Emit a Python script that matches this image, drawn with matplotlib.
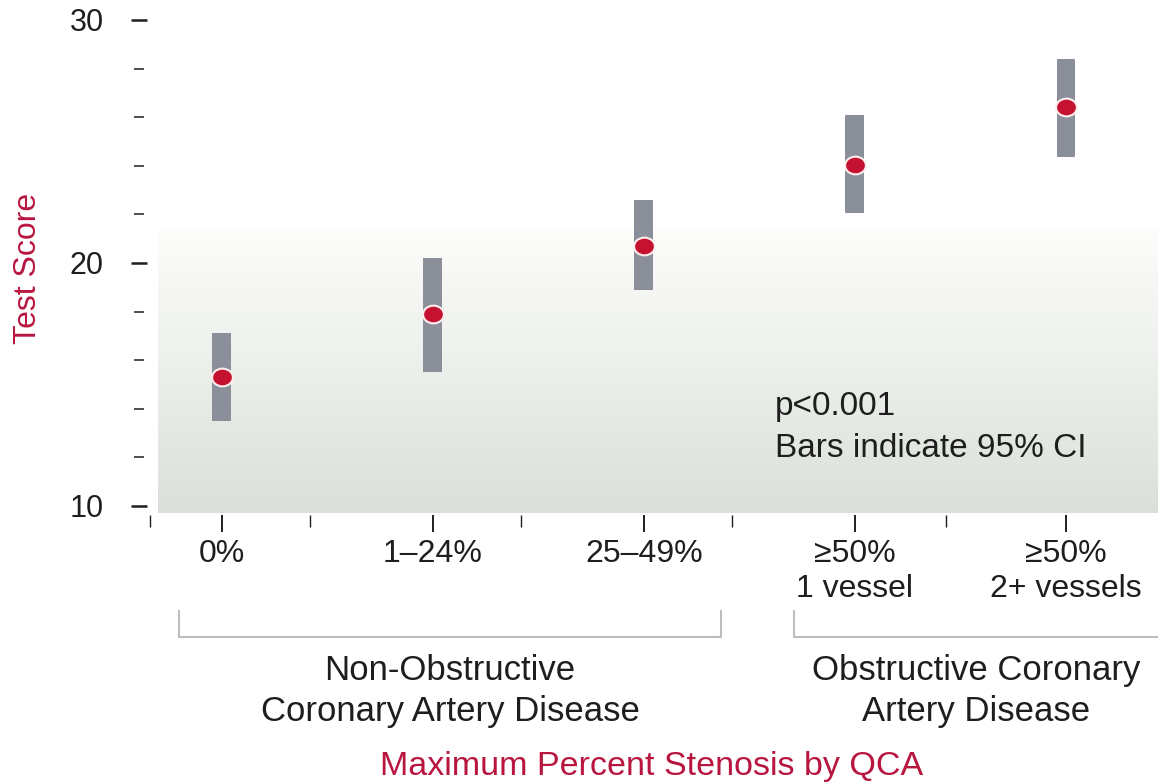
import numpy as np
import matplotlib
matplotlib.use('Agg')
import matplotlib.pyplot as plt
from matplotlib.path import Path
from matplotlib.transforms import Affine2D, blended_transform_factory
from matplotlib.colors import LinearSegmentedColormap

categorias = ['0%', '1–24%', '25–49%', '≥50%\n1 vessel', '≥50%\n2+ vessels']
media = [15.3, 17.9, 20.7, 24.05, 26.4]
ic_inferior = [13.5, 15.5, 18.9, 22.05, 24.35]
ic_superior = [17.1, 20.2, 22.6, 26.1, 28.4]
grupos = [('Non-Obstructive', 'Coronary Artery Disease'), ('Obstructive Coronary', 'Artery Disease')]
grupos_inicio = [-0.204, 2.711]
grupos_fim = [2.365, 4.6]

vermelho = '#b8163f'
texto = '#1e1e1e'

plt.rcParams['font.family'] = ['Liberation Sans', 'DejaVu Sans']

fig = plt.figure(figsize=(11.58, 7.84), dpi=100)
ax = fig.add_axes([146 / 1158, 271 / 784, 1012 / 1158, 513 / 784])
ax.patch.set_alpha(0)

x = np.arange(len(categorias))

# fundo em degradê (parte de baixo do gráfico)
fundo = LinearSegmentedColormap.from_list(
    'fundo', [(0, '#dae0d8'), (0.45, '#eaeee9'), (0.8, '#f6f7f5'), (1, '#fdfdfc')])
ax.imshow(np.linspace(0, 1, 256).reshape(-1, 1), cmap=fundo, origin='lower', aspect='auto',
          extent=(-0.303, 4.436, 9.71, 21.4), zorder=0)

# barras do intervalo de confiança
altura = np.array(ic_superior) - np.array(ic_inferior)
ax.bar(x, altura, bottom=ic_inferior, width=0.09, color='#8b8f99', zorder=2)

# pontos (elipse vermelha com borda branca)
elipse = Path.unit_circle().transformed(Affine2D().scale(1, 0.85))
ax.plot(x, media, ls='none', marker=elipse, ms=15, mfc='#c41230', mec='#fdeeee', mew=1.5, zorder=3)

ax.set_xlim(-0.36, 4.436)
ax.set_ylim(9.71, 30.82)

for lado in ['top', 'right', 'left', 'bottom']:
    ax.spines[lado].set_visible(False)
ax.spines['left'].set_position(('outward', 5.4))
ax.spines['bottom'].set_position(('outward', 1.5))

ax.set_yticks([10, 20, 30])
ax.set_yticks(range(12, 30, 2), minor=True)
ax.set_xticks(x)
ax.set_xticklabels(categorias)
ax.set_xticks([-0.341, 0.415, 1.415, 2.415, 3.43], minor=True)

ax.tick_params(axis='y', which='major', direction='inout', length=12.2, width=1.8, pad=19,
               labelsize=22, colors=texto)
ax.tick_params(axis='y', which='minor', direction='inout', length=7.2, width=1.1, colors=texto)
ax.tick_params(axis='x', which='major', direction='out', length=12.2, width=1.4, pad=5,
               labelsize=23, colors=texto)
ax.tick_params(axis='x', which='minor', direction='out', length=8.6, width=1.0, colors=texto)

# rótulo do eixo y
fig.text(28 / 1158, 1 - 268 / 784, 'Test Score', rotation=90, ha='center', va='center',
         fontsize=23, color=vermelho)

# anotação
fig.text(775 / 1158, 1 - 415 / 784, 'p<0.001', fontsize=24, color=texto, va='baseline')
fig.text(775 / 1158, 1 - 457 / 784, 'Bars indicate 95% CI', fontsize=24, color=texto, va='baseline')

# chaves dos grupos
trans = blended_transform_factory(ax.transData, fig.transFigure)
y_linha = 1 - 637 / 784
y_topo = 1 - 611 / 784
for ini, fim, (linha1, linha2) in zip(grupos_inicio, grupos_fim, grupos):
    ax.plot([ini, ini, fim, fim], [y_topo, y_linha, y_linha, y_topo], transform=trans,
            color='#bdbdbd', lw=1.5, clip_on=False)
    centro = (ini + min(fim, 4.436)) / 2
    ax.text(centro, 1 - 680 / 784, linha1, transform=trans, ha='center', va='baseline',
            fontsize=25, color=texto)
    ax.text(centro, 1 - 721 / 784, linha2, transform=trans, ha='center', va='baseline',
            fontsize=25, color=texto)

# título do eixo x
fig.text(652 / 1158, 1 - 775 / 784, 'Maximum Percent Stenosis by QCA', ha='center', va='baseline',
         fontsize=24.5, color=vermelho)

fig.savefig('out.png', dpi=100)
